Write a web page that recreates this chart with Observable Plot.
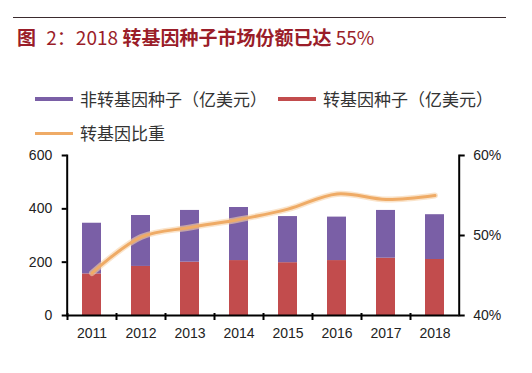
<!DOCTYPE html>
<html><head><meta charset="utf-8">
<script src="https://cdn.jsdelivr.net/npm/d3@7"></script>
<script src="https://cdn.jsdelivr.net/npm/@observablehq/plot@0.6"></script>
<style>
body{margin:0;width:532px;height:373px;position:relative;background:#fff;overflow:hidden;font-family:"Noto Sans CJK SC",sans-serif}
#rule{position:absolute;left:13px;top:17px;width:493px;height:0;border-top:1.5px solid #3b2b2e}
#title{position:absolute;left:17px;top:23px;font-size:19px;font-weight:bold;color:#9a1d29;line-height:28px;white-space:nowrap}
#title .n{font-weight:normal}
#title .g{margin-left:6px}
.leg{position:absolute;font-size:17px;color:#333;line-height:20px;white-space:nowrap;display:flex;align-items:center}
.sw{display:inline-block;width:38px;margin-right:7px}
#chart{position:absolute;left:0;top:140px}
</style></head><body>
<div id="rule"></div>
<div id="title">图 <span class="n g">2：2018</span> 转基因种子市场份额已达 <span class="n">55%</span></div>
<div id="legend"></div>
<div id="chart"></div>
<script>
const years = ["2011","2012","2013","2014","2015","2016","2017","2018"];
const gmSeed = [156,184,200,206,198,206,215,210];
const nonGmSeed = [190,191,194,199,173,163,179,168];
const gmShare = [45.3,49.8,51.0,52.0,53.3,55.2,54.5,55.0];
const seriesNames = ["非转基因种子（亿美元）","转基因种子（亿美元）","转基因比重"];
const seriesColors = ["#7a5fa6","#c24c4d","#efab66"];
const leftTicks = [0,200,400,600];
const rightTicks = [40,50,60];

const W = 532, H = 233, mL = 66.7, mR = 73.3, mT = 15, mB = 58;
const toY = p => (p - 40) * 30;

// legend
const legendPos = [[35,89,4.5],[278,89,4.5],[35,123,3]];
const legend = document.getElementById("legend");
seriesNames.forEach((name,i)=>{
  const d = document.createElement("div");
  d.className = "leg";
  d.style.left = legendPos[i][0]+"px";
  d.style.top = legendPos[i][1]+"px";
  const sw = document.createElement("span");
  sw.className = "sw";
  sw.style.height = legendPos[i][2]+"px";
  sw.style.background = seriesColors[i];
  d.appendChild(sw);
  d.appendChild(document.createTextNode(name));
  legend.appendChild(d);
});

const rows = years.flatMap((y,i)=>[
  {year:y, s:seriesNames[1], v:gmSeed[i]},
  {year:y, s:seriesNames[0], v:nonGmSeed[i]}
]);
const lineData = years.map((y,i)=>({year:y, p:gmShare[i]}));

const xOpts = {type:"band", domain:years, range:[mL, W-mR], paddingInner:0.61, paddingOuter:0.305};
const xs = Plot.scale({x:xOpts});

const chart = Plot.plot({
  width:W, height:H, marginTop:mT, marginBottom:mB, marginLeft:mL, marginRight:mR,
  x:{domain:years, paddingInner:0.61, paddingOuter:0.305, label:null, axis:null},
  y:{domain:[0,600], label:null, axis:null},
  color:{domain:[seriesNames[0],seriesNames[1]], range:[seriesColors[0],seriesColors[1]]},
  style:{fontFamily:"'Liberation Sans', Arial, sans-serif", fontSize:"14px", color:"#222", background:"transparent"},
  marks:[
    Plot.barY(rows,{x:"year", y:"v", fill:"s", order:[seriesNames[1],seriesNames[0]]}),
    Plot.line(lineData,{x:"year", y:d=>toY(d.p), curve:"catmull-rom", stroke:"#f7d2a8", strokeWidth:6, strokeOpacity:0.6}),
    Plot.line(lineData,{x:"year", y:d=>toY(d.p), curve:"catmull-rom", stroke:seriesColors[2], strokeWidth:3}),
    Plot.axisY({ticks:leftTicks, anchor:"left", tickSize:5, tickPadding:10, strokeWidth:2, stroke:"#000", label:null, fontSize:14}),
    Plot.axisY({ticks:rightTicks.map(toY), anchor:"right", tickSize:5, tickPadding:9, strokeWidth:2, stroke:"#000", tickFormat:d=>(40+d/30)+"%", label:null, fontSize:14}),
    Plot.axisX({anchor:"bottom", tickSize:0, tickPadding:13, label:null, fontSize:14}),
    Plot.axisX({anchor:"bottom", tickSize:7, dy:-2, text:null, dx:-xs.step/2, strokeWidth:2, stroke:"#000", label:null}),
    Plot.ruleY([0],{stroke:"#000", strokeWidth:2}),
    Plot.frame({anchor:"left", stroke:"#000", strokeWidth:2}),
    Plot.frame({anchor:"right", stroke:"#000", strokeWidth:2})
  ]
});
document.getElementById("chart").appendChild(chart);
</script>
</body></html>
